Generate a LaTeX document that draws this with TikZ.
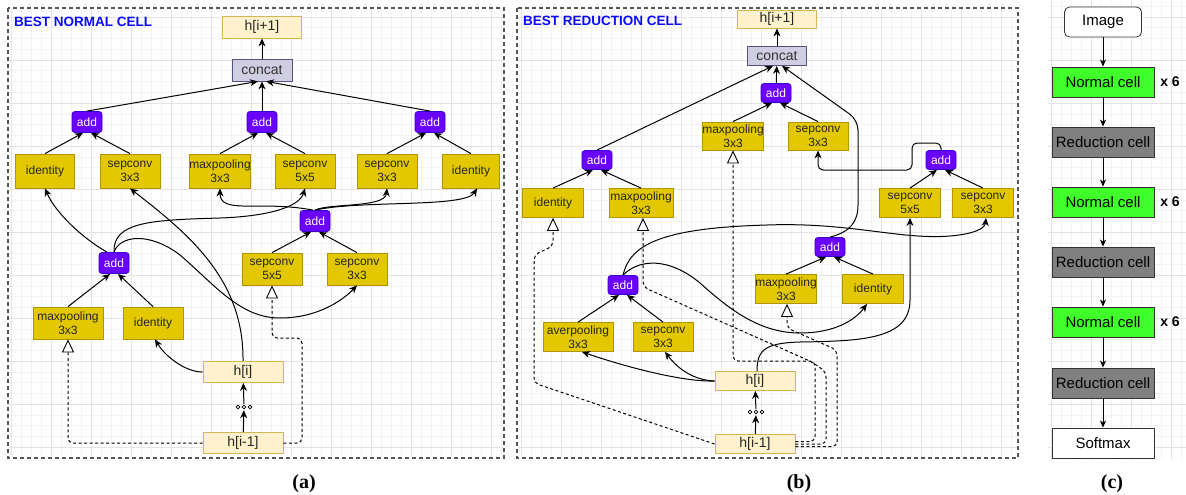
\documentclass[tikz,border=0pt]{standalone}
\usepackage{fontspec}
\usetikzlibrary{arrows.meta}
\newfontfamily\arialf{Liberation Sans}
\newfontfamily\seriff{Liberation Serif}
\definecolor{yfill}{HTML}{E3C800}
\definecolor{ydraw}{HTML}{B09500}
\definecolor{hfill}{HTML}{FFF2CC}
\definecolor{hdraw}{HTML}{D6B656}
\definecolor{cfill}{HTML}{D0CEE2}
\definecolor{cdraw}{HTML}{56517E}
\definecolor{afill}{HTML}{6A00FF}
\definecolor{adraw}{HTML}{3700CC}
\definecolor{gfill}{HTML}{40FF2A}
\definecolor{rfill}{HTML}{808080}
\definecolor{framec}{HTML}{555555}
\definecolor{gridminor}{HTML}{F3F3F3}
\definecolor{gridmajor}{HTML}{E4E4E4}
\definecolor{titlec}{HTML}{0A0AFF}
\begin{document}
\begin{tikzpicture}[x=1pt,y=-1pt,
  base/.style={inner sep=0pt, align=center},
  ybox/.style={base, draw=ydraw, fill=yfill, line width=0.8pt, minimum width=60pt, minimum height=34pt, text=black!85, font=\arialf\fontsize{12}{14}\selectfont},
  hbox/.style={base, draw=hdraw, fill=hfill, line width=0.8pt, minimum width=80pt, minimum height=21pt, text=black!85, font=\arialf\fontsize{14}{16}\selectfont},
  catbox/.style={base, draw=cdraw, fill=cfill, line width=0.8pt, minimum width=60pt, minimum height=22pt, text=black!80, font=\arialf\fontsize{14}{16}\selectfont},
  addbox/.style={base, draw=adraw, fill=afill, rounded corners=3pt, line width=0.8pt, minimum width=30pt, minimum height=21pt, text=white, font=\arialf\fontsize{12}{14}\selectfont},
  ncell/.style={base, draw=black!80, fill=gfill, line width=0.8pt, minimum width=102pt, minimum height=30pt, font=\arialf\fontsize{15}{18}\selectfont},
  rcell/.style={ncell, fill=rfill},
  wcell/.style={ncell, fill=white},
  imgbox/.style={wcell, rounded corners=5pt, minimum width=77pt},
  xlab/.style={base, font=\arialf\bfseries\fontsize{14}{17}\selectfont},
  title/.style={base, anchor=west, text=titlec, font=\arialf\bfseries\fontsize{13.5}{16}\selectfont},
  plab/.style={base, font=\seriff\bfseries\fontsize{20}{24}\selectfont},
  dotsn/.style={base, minimum width=18pt, minimum height=6pt},
  arr/.style={line width=1pt, -{Stealth[length=8pt,width=7pt,inset=2.5pt]}},
  darr/.style={line width=1pt, dash pattern=on 3pt off 2.5pt, rounded corners=5pt, -{Triangle[length=13pt,width=12pt,fill=white,line width=0.9pt]}},
  carr/.style={line width=0.9pt, -{Stealth[length=7pt,width=6pt,inset=2pt]}},
  frame/.style={draw=framec, line width=1.2pt, dash pattern=on 4pt off 3pt},
  gmin/.style={draw=gridminor, line width=0.5pt},
  gmaj/.style={draw=gridmajor, line width=0.6pt},
]
\useasboundingbox (0,0) rectangle (1186,495);
\fill[white] (0,0) rectangle (1186,495);
% grids panel (a)
\foreach \gx in {11,21,...,501} \draw[gmin] (\gx,9) -- (\gx,457);
\foreach \gy in {447,436.25,...,12} \draw[gmin] (9,\gy) -- (503,\gy);
\foreach \gx in {11,51,...,491} \draw[gmaj] (\gx,9) -- (\gx,457);
\foreach \gy in {447,404,...,12} \draw[gmaj] (9,\gy) -- (503,\gy);
% grids panel (b)
\foreach \gx in {521,531,...,1011} \draw[gmin] (\gx,9) -- (\gx,457);
\foreach \gy in {447,436.25,...,12} \draw[gmin] (518,\gy) -- (1017,\gy);
\foreach \gx in {521,561,...,1001} \draw[gmaj] (\gx,9) -- (\gx,457);
\foreach \gy in {447,404,...,12} \draw[gmaj] (518,\gy) -- (1017,\gy);
% grids panel (c)
\foreach \gx in {1051,1061,...,1181} \draw[gmin] (\gx,0) -- (\gx,460);
\foreach \gy in {447,436.25,...,2} \draw[gmin] (1048,\gy) -- (1186,\gy);
\foreach \gx in {1051,1091,...,1171} \draw[gmaj] (\gx,0) -- (\gx,460);
\foreach \gy in {447,404,...,2} \draw[gmaj] (1048,\gy) -- (1186,\gy);
% frames
\draw[frame] (8,8) rectangle (504,458);
\draw[frame] (517,8) rectangle (1018,458);

% ================= panel (a) =================
\node[title] (a_title) at (14,22) {BEST NORMAL CELL};
\node[hbox, minimum width=79pt, minimum height=22pt] (a_hip1) at (262,27) {h[i+1]};
\node[catbox] (a_cat) at (262,70) {concat};
\node[addbox] (a_add1) at (87,122) {add};
\node[addbox] (a_add2) at (262,122) {add};
\node[addbox] (a_add3) at (430,122) {add};
\node[ybox, minimum width=59pt] (a_id1) at (45,171) {identity};
\node[ybox] (a_sc1) at (130,171) {sepconv\\3x3};
\node[ybox] (a_mp1) at (220,171) {maxpooling\\3x3};
\node[ybox] (a_sc2) at (305,171) {sepconv\\5x5};
\node[ybox] (a_sc3) at (387,171) {sepconv\\3x3};
\node[ybox, minimum width=57pt] (a_id2) at (471,171) {identity};
\node[addbox] (a_add4) at (315,221) {add};
\node[addbox] (a_add5) at (114,263) {add};
\node[ybox, minimum height=32pt] (a_sc4) at (272,269) {sepconv\\5x5};
\node[ybox, minimum height=32pt] (a_sc5) at (357,269) {sepconv\\3x3};
\node[ybox, minimum width=70pt, minimum height=32pt] (a_mp2) at (68,323) {maxpooling\\3x3};
\node[ybox, minimum height=32pt] (a_id3) at (153,323) {identity};
\node[hbox] (a_hi) at (243,372) {h[i]};
\node[dotsn] (a_dots) at (244,407) {};
\node[hbox] (a_him1) at (243,443) {h[i-1]};
\foreach \dx in {-6,0,6} \draw[line width=0.7pt] ([xshift=\dx pt]a_dots.center) circle (1.8pt);

\draw[arr] (a_cat) -- (a_hip1);
\draw[arr] (a_add1.north) -- ([xshift=-4pt]a_cat.south);
\draw[arr] (a_add2) -- (a_cat);
\draw[arr] (a_add3.north) -- ([xshift=4pt]a_cat.south);
\draw[arr] (a_id1.north) -- ([xshift=-4pt]a_add1.south);
\draw[arr] (a_sc1.north) -- ([xshift=4pt]a_add1.south);
\draw[arr] (a_mp1.north) -- ([xshift=-4pt]a_add2.south);
\draw[arr] (a_sc2.north) -- ([xshift=4pt]a_add2.south);
\draw[arr] (a_sc3.north) -- ([xshift=-4pt]a_add3.south);
\draw[arr] (a_id2.north) -- ([xshift=4pt]a_add3.south);
\draw[arr] (a_sc4.north) -- ([xshift=-4pt]a_add4.south);
\draw[arr] (a_sc5.north) -- ([xshift=4pt]a_add4.south);
\draw[arr] (a_mp2.north) -- ([xshift=-4pt]a_add5.south);
\draw[arr] (a_id3.north) -- ([xshift=4pt]a_add5.south);
\draw[arr] (a_him1) -- (a_dots);
\draw[arr] (a_dots) -- (a_hi);

\draw[arr] ([xshift=-7pt]a_add5.north) .. controls (82,238) and (55,212) .. (a_id1.south);
\draw[arr] (a_add5.north) .. controls (113,222) and (150,220) .. (220,218) .. controls (275,216) and (300,205) .. (a_sc2.south);
\draw[arr] (a_add5.north) .. controls (120,235) and (150,232) .. (180,255) .. controls (215,285) and (240,318) .. (280,318) .. controls (320,318) and (345,298) .. (a_sc5.south);
\draw[arr] (a_hi.north) .. controls (244,280) and (190,235) .. (a_sc1.south);
\draw[arr] (a_hi.west) .. controls (185,372) and (165,356) .. ([xshift=2pt]a_id3.south);
\draw[arr] ([xshift=-2pt]a_add4.north) .. controls (260,200) and (220,215) .. (a_mp1.south);
\draw[arr] (a_add4.north) .. controls (330,203) and (385,208) .. (a_sc3.south);
\draw[arr] (a_add4.north) .. controls (360,200) and (465,208) .. ([xshift=6pt]a_id2.south);
\draw[darr] (a_him1.west) -| (a_mp2.south);
\draw[darr] (a_him1.east) -| (302,338) -| (a_sc4.south);

% ================= panel (b) =================
\node[title] (b_title) at (523,21) {BEST REDUCTION CELL};
\node[hbox, minimum width=79pt, minimum height=18pt] (b_hip1) at (777,19) {h[i+1]};
\node[catbox, minimum width=59pt, minimum height=19pt] (b_cat) at (777,56) {concat};
\node[addbox, minimum height=19pt] (b_add1) at (776,93) {add};
\node[ybox, minimum height=28pt] (b_mp1) at (733,136) {maxpooling\\3x3};
\node[ybox, minimum height=28pt] (b_sc1) at (818,136) {sepconv\\3x3};
\node[addbox, minimum height=19pt] (b_add2) at (597,160) {add};
\node[addbox, minimum height=19pt] (b_add3) at (941,160) {add};
\node[ybox, minimum width=61pt, minimum height=29pt] (b_id1) at (553,203) {identity};
\node[ybox, minimum width=64pt, minimum height=29pt] (b_mp2) at (641,203) {maxpooling\\3x3};
\node[ybox, minimum width=61pt, minimum height=29pt] (b_sc2) at (910,203) {sepconv\\5x5};
\node[ybox, minimum width=61pt, minimum height=29pt] (b_sc3) at (983,203) {sepconv\\3x3};
\node[addbox, minimum height=19pt] (b_add4) at (830,247) {add};
\node[ybox, minimum width=61pt, minimum height=29pt] (b_mp3) at (786,289) {maxpooling\\3x3};
\node[ybox, minimum width=61pt, minimum height=29pt] (b_id2) at (873,289) {identity};
\node[addbox, minimum height=19pt] (b_add5) at (623,285) {add};
\node[ybox, minimum width=70pt, minimum height=29pt] (b_ap) at (578,337) {averpooling\\3x3};
\node[ybox, minimum height=29pt] (b_sc4) at (663,337) {sepconv\\3x3};
\node[hbox, minimum height=19pt] (b_hi) at (755,381) {h[i]};
\node[dotsn] (b_dots) at (756,412) {};
\node[hbox, minimum height=19pt] (b_him1) at (755,444) {h[i-1]};
\foreach \dx in {-6,0,6} \draw[line width=0.7pt] ([xshift=\dx pt]b_dots.center) circle (1.8pt);

\draw[arr] (b_cat) -- (b_hip1);
\draw[arr] (b_add1) -- (b_cat);
\draw[arr] (b_add2.north) -- ([xshift=-4pt]b_cat.south);
\draw[arr] (b_add4.north) .. controls (850,232) and (858,222) .. (858,205) [rounded corners=10pt] -- (858,120) -- ([xshift=5pt]b_cat.south);
\draw[arr] (b_mp1.north) -- ([xshift=-4pt]b_add1.south);
\draw[arr] (b_sc1.north) -- ([xshift=4pt]b_add1.south);
\draw[arr] (b_id1.north) -- ([xshift=-4pt]b_add2.south);
\draw[arr] (b_mp2.north) -- ([xshift=4pt]b_add2.south);
\draw[arr] (b_sc2.north) -- ([xshift=-4pt]b_add3.south);
\draw[arr] (b_sc3.north) -- ([xshift=4pt]b_add3.south);
\draw[arr] (b_mp3.north) -- ([xshift=-4pt]b_add4.south);
\draw[arr] (b_id2.north) -- ([xshift=4pt]b_add4.south);
\draw[arr] (b_ap.north) -- ([xshift=-4pt]b_add5.south);
\draw[arr] (b_sc4.north) -- ([xshift=4pt]b_add5.south);
\draw[arr, rounded corners=5pt] (b_add3.north) -- (941,143) -- (912,143) -- (912,170) -- (818,170) -- (b_sc1.south);
\draw[arr] (b_add5.north) .. controls (630,245) and (660,228) .. (767,225) .. controls (850,222) and (900,240) .. (950,236) .. controls (975,234) and (985,228) .. ([xshift=3pt]b_sc3.south);
\draw[arr] (b_add5.north) .. controls (640,258) and (670,258) .. (700,283) .. controls (730,310) and (760,333) .. (800,333) .. controls (835,333) and (855,320) .. ([xshift=-6pt]b_id2.south);
\draw[arr] ([xshift=2pt]b_hi.north) .. controls (757,350) and (765,343) .. (800,342) .. controls (860,341) and (910,340) .. (910,300) -- (b_sc2.south);
\draw[arr] (b_hi.west) .. controls (680,382) and (620,365) .. ([xshift=4pt]b_ap.south);
\draw[arr] (b_hi.west) .. controls (690,380) and (675,365) .. ([xshift=2pt]b_sc4.south);
\draw[arr] (b_him1) -- (b_dots);
\draw[arr] (b_dots) -- (b_hi);
\draw[darr] (b_him1.west) -- (534,383) -- (534,255) -- (553,246) -- (b_id1.south);
\draw[darr] ([yshift=2.5pt]b_him1.east) -- (815,441.5) -- (815,361) -- (733,361) -- (b_mp1.south);
\draw[darr] (b_him1.east) -- (826,444) -- (826,372) -- (812,362) -- (643,287) -- ([xshift=2pt]b_mp2.south);
\draw[darr] ([yshift=-2.5pt]b_him1.east) -- (837,446.5) -- (837,350) -- (787,328) -- ([xshift=1pt]b_mp3.south);

% ================= panel (c) =================
\node[imgbox] (c_img) at (1103,22) {Image};
\node[ncell] (c_n1) at (1103,82) {Normal cell};
\node[rcell] (c_r1) at (1103,142) {Reduction cell};
\node[ncell] (c_n2) at (1103,202) {Normal cell};
\node[rcell] (c_r2) at (1103,262) {Reduction cell};
\node[ncell] (c_n3) at (1103,322) {Normal cell};
\node[rcell] (c_r3) at (1103,383) {Reduction cell};
\node[wcell] (c_sm) at (1103,443) {Softmax};
\node[xlab] (c_x1) at (1170,82) {x 6};
\node[xlab] (c_x2) at (1170,202) {x 6};
\node[xlab] (c_x3) at (1170,322) {x 6};
\draw[carr] (c_img) -- (c_n1);
\draw[carr] (c_n1) -- (c_r1);
\draw[carr] (c_r1) -- (c_n2);
\draw[carr] (c_n2) -- (c_r2);
\draw[carr] (c_r2) -- (c_n3);
\draw[carr] (c_n3) -- (c_r3);
\draw[carr] (c_r3) -- (c_sm);

% labels
\node[plab] (a_lab) at (304,484) {(a)};
\node[plab] (b_lab) at (799,484) {(b)};
\node[plab] (c_lab) at (1112,484) {(c)};
\end{tikzpicture}
\end{document}
